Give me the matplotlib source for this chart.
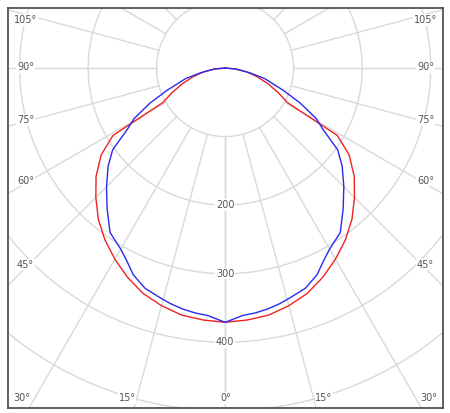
import numpy as np
import matplotlib.pyplot as plt

# intensity (cd/klm) vs angle from nadir, mirrored to both sides
red_ang = [0, 5, 10, 15, 20, 25, 30, 35, 40, 45, 50, 55, 59, 61, 65, 70, 75, 80, 85, 90]
red_val = [371, 369, 366, 359, 350, 337, 322, 306, 288, 267, 246, 221, 191, 104, 86, 66, 48, 32, 16, 0]
blue_ang = [0, 4, 7, 10, 13, 16, 20, 24, 27, 30, 35, 40, 45, 50, 54, 58, 61, 65, 69, 75, 79, 85, 90]
blue_val = [371, 362, 360, 357, 353, 348, 342, 330, 316, 305, 293, 268, 245, 223, 203, 168, 152, 121, 91, 60, 37, 15, 0]
ring_vals = [100, 200, 300, 400, 500, 600, 700]
ring_labels = [200, 300, 400]
spoke_angles = list(range(0, 181, 15))
bottom_labels = [0, 15, 30]
side_labels = [45, 60, 75, 90, 105]

fig = plt.figure(figsize=(4.5, 4.13), dpi=100)
ax = fig.add_axes([8 / 450, 5 / 413, 435 / 450, 400 / 413])
ax.set_xlim(-317, 318)
ax.set_ylim(-496, 87.6)
ax.set_xticks([])
ax.set_yticks([])
for s in ax.spines.values():
    s.set_color('#444444')
    s.set_linewidth(1.2)

grid = '#d9d9d9'
t = np.linspace(0, 2 * np.pi, 400)
for r in ring_vals:
    ax.plot(r * np.cos(t), r * np.sin(t), color=grid, lw=1, zorder=1)
for a in spoke_angles:
    th = np.radians(a)
    for sgn in (-1, 1):
        ax.plot([sgn * 100 * np.sin(th), sgn * 900 * np.sin(th)],
                [-100 * np.cos(th), -900 * np.cos(th)], color=grid, lw=1, zorder=1)

txt = dict(color='#555555', fontsize=7, ha='center', va='center')
box = dict(fc='white', ec='none', pad=0.5)
for r in ring_labels:
    ax.text(0, -r, str(r), bbox=box, zorder=2, **txt)

# angle labels along the frame (axes fraction positions)
bx = {0: 0.5, 15: 0.274, 30: 0.032}
for a in bottom_labels:
    for f in ({bx[a]} if a == 0 else {bx[a], 1 - bx[a]}):
        ax.text(f, 0.025, f'{a}°', transform=ax.transAxes, bbox=box, zorder=2, **txt)
sy = {45: 0.358, 60: 0.568, 75: 0.72, 90: 0.852, 105: 0.97}
for a in side_labels:
    for f in (0.04, 0.96):
        ax.text(f, sy[a], f'{a}°', transform=ax.transAxes, bbox=box, zorder=2, **txt)

for ang, val, col in [(red_ang, red_val, '#ee2222'), (blue_ang, blue_val, '#2a2aee')]:
    ang = np.radians(np.array(ang))
    val = np.array(val)
    a2 = np.concatenate([-ang[::-1], ang[1:]])
    v2 = np.concatenate([val[::-1], val[1:]])
    ax.plot(v2 * np.sin(a2), -v2 * np.cos(a2), color=col, lw=1, zorder=3)

fig.savefig('out.png', dpi=100)
